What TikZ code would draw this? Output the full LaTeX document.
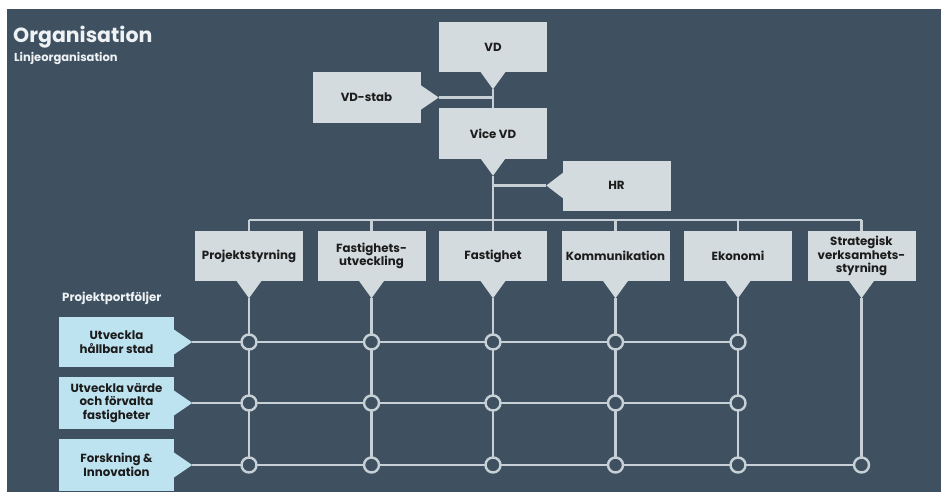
\documentclass[tikz,border=0pt]{standalone}
\usepackage{fontspec}
\setmainfont{Poppins}
\definecolor{bg}{HTML}{3F5161}
\definecolor{boxc}{HTML}{D3DBDF}
\definecolor{pboxc}{HTML}{BEE3F0}
\definecolor{linec}{HTML}{C6D0D6}
\definecolor{txt}{HTML}{1C1C1C}
\definecolor{ttl}{HTML}{EEF2F4}
\newcommand\dptr[2][boxc]{\fill[#1] ([xshift=-13pt,yshift=1pt]#2.south) -- ([xshift=13pt,yshift=1pt]#2.south) -- ([yshift=-17pt]#2.south) -- cycle;
  \coordinate (#2tip) at ([yshift=-17pt]#2.south);}
\newcommand\rptr[2][boxc]{\fill[#1] ([xshift=-1pt,yshift=13pt]#2.east) -- ([xshift=-1pt,yshift=-13pt]#2.east) -- ([xshift=18pt]#2.east) -- cycle;
  \coordinate (#2tip) at ([xshift=18pt]#2.east);}
\newcommand\lptr[2][boxc]{\fill[#1] ([xshift=1pt,yshift=13pt]#2.west) -- ([xshift=1pt,yshift=-13pt]#2.west) -- ([xshift=-16pt]#2.west) -- cycle;
  \coordinate (#2tip) at ([xshift=-16pt]#2.west);}
\begin{document}
\begin{tikzpicture}[x=1pt,y=-1pt,
  box/.style={rectangle, fill=boxc, minimum width=108pt, minimum height=50pt, inner sep=0pt, align=center, text=txt, font=\bfseries\fontsize{11.8}{13.6}\selectfont},
  pbox/.style={box, fill=pboxc, minimum width=115pt},
  conn/.style={draw=linec, line width=2.6pt},
  dot/.style={circle, draw=linec, fill=bg, line width=2.4pt, minimum size=15pt, inner sep=0pt}]
\useasboundingbox (0,0) rectangle (941,492);
\fill[white] (0,0) rectangle (941,492);
\fill[bg] (7,9) rectangle (941,492);

\node[anchor=base west, inner sep=0pt, text=ttl, font=\bfseries\fontsize{20.5}{24}\selectfont] (title) at (13,43) {Organisation};
\node[anchor=base west, inner sep=0pt, text=ttl, font=\bfseries\fontsize{11.5}{13}\selectfont] (sub) at (14,62) {Linjeorganisation};
\node[anchor=base west, inner sep=0pt, text=ttl, font=\bfseries\fontsize{11.8}{13}\selectfont] (pp) at (62,301) {Projektportföljer};

% top boxes
\node[box] (vd) at (493,47) {VD};
\node[box] (vdstab) at (366.5,97.5) {VD-stab};
\node[box] (vice) at (493,133.5) {Vice VD};
\node[box] (hr) at (616.5,185.5) {HR};
\dptr{vd}
\rptr{vdstab}
\dptr{vice}
\lptr{hr}

% departments
\node[box] (d1) at (249,256) {Projektstyrning};
\node[box] (d2) at (371.5,256) {Fastighets-\\utveckling};
\node[box] (d3) at (493,256) {Fastighet};
\node[box] (d4) at (615.5,256) {Kommunikation};
\node[box] (d5) at (738,256) {Ekonomi};
\node[box] (d6) at (861.5,256) {Strategisk\\verksamhets-\\styrning};
\dptr{d1}\dptr{d2}\dptr{d3}\dptr{d4}\dptr{d5}\dptr{d6}

% portfolios
\node[pbox] (p1) at (116.5,342) {Utveckla\\hållbar stad};
\node[pbox, minimum height=52pt] (p2) at (116.5,403) {Utveckla värde\\och förvalta\\fastigheter};
\node[pbox, minimum height=52pt] (p3) at (116.5,465) {Forskning \&\\Innovation};
\rptr[pboxc]{p1}
\rptr[pboxc]{p2}
\rptr[pboxc]{p3}

% connectors top
\draw[conn] (vdtip) -- (vice.north);
\draw[conn] (vdstabtip) -- (vdstabtip -| vd.south);
\draw[conn] (vicetip) -- (d3.north);
\draw[conn] (hrtip) -- (hrtip -| vice.south);
\draw[conn] ([yshift=11pt]d1.north) -- ([yshift=11pt]d6.north);
\foreach \d in {d1,d2,d4,d5,d6}{\draw[conn] (\d.north) -- ++(0,-11);}

% matrix dots
\foreach \d [count=\i] in {d1,d2,d3,d4,d5}{
  \coordinate (c1\i) at (\d |- p1tip);
  \coordinate (c2\i) at (\d |- p2tip);
  \coordinate (c3\i) at (\d |- p3tip);
}
\coordinate (c36) at (d6 |- p3tip);
\draw[conn] (p1tip) -- (c15);
\draw[conn] (p2tip) -- (c25);
\draw[conn] (p3tip) -- (c36);
\draw[conn] (d1tip) -- (c31);
\draw[conn] (d2tip) -- (c32);
\draw[conn] (d3tip) -- (c33);
\draw[conn] (d4tip) -- (c34);
\draw[conn] (d5tip) -- (c35);
\draw[conn] (d6tip) -- (c36);
\foreach \i in {1,...,5}{
  \node[dot] (n1\i) at (c1\i) {};
  \node[dot] (n2\i) at (c2\i) {};
  \node[dot] (n3\i) at (c3\i) {};
}
\node[dot] (n36) at (c36) {};
\end{tikzpicture}
\end{document}
